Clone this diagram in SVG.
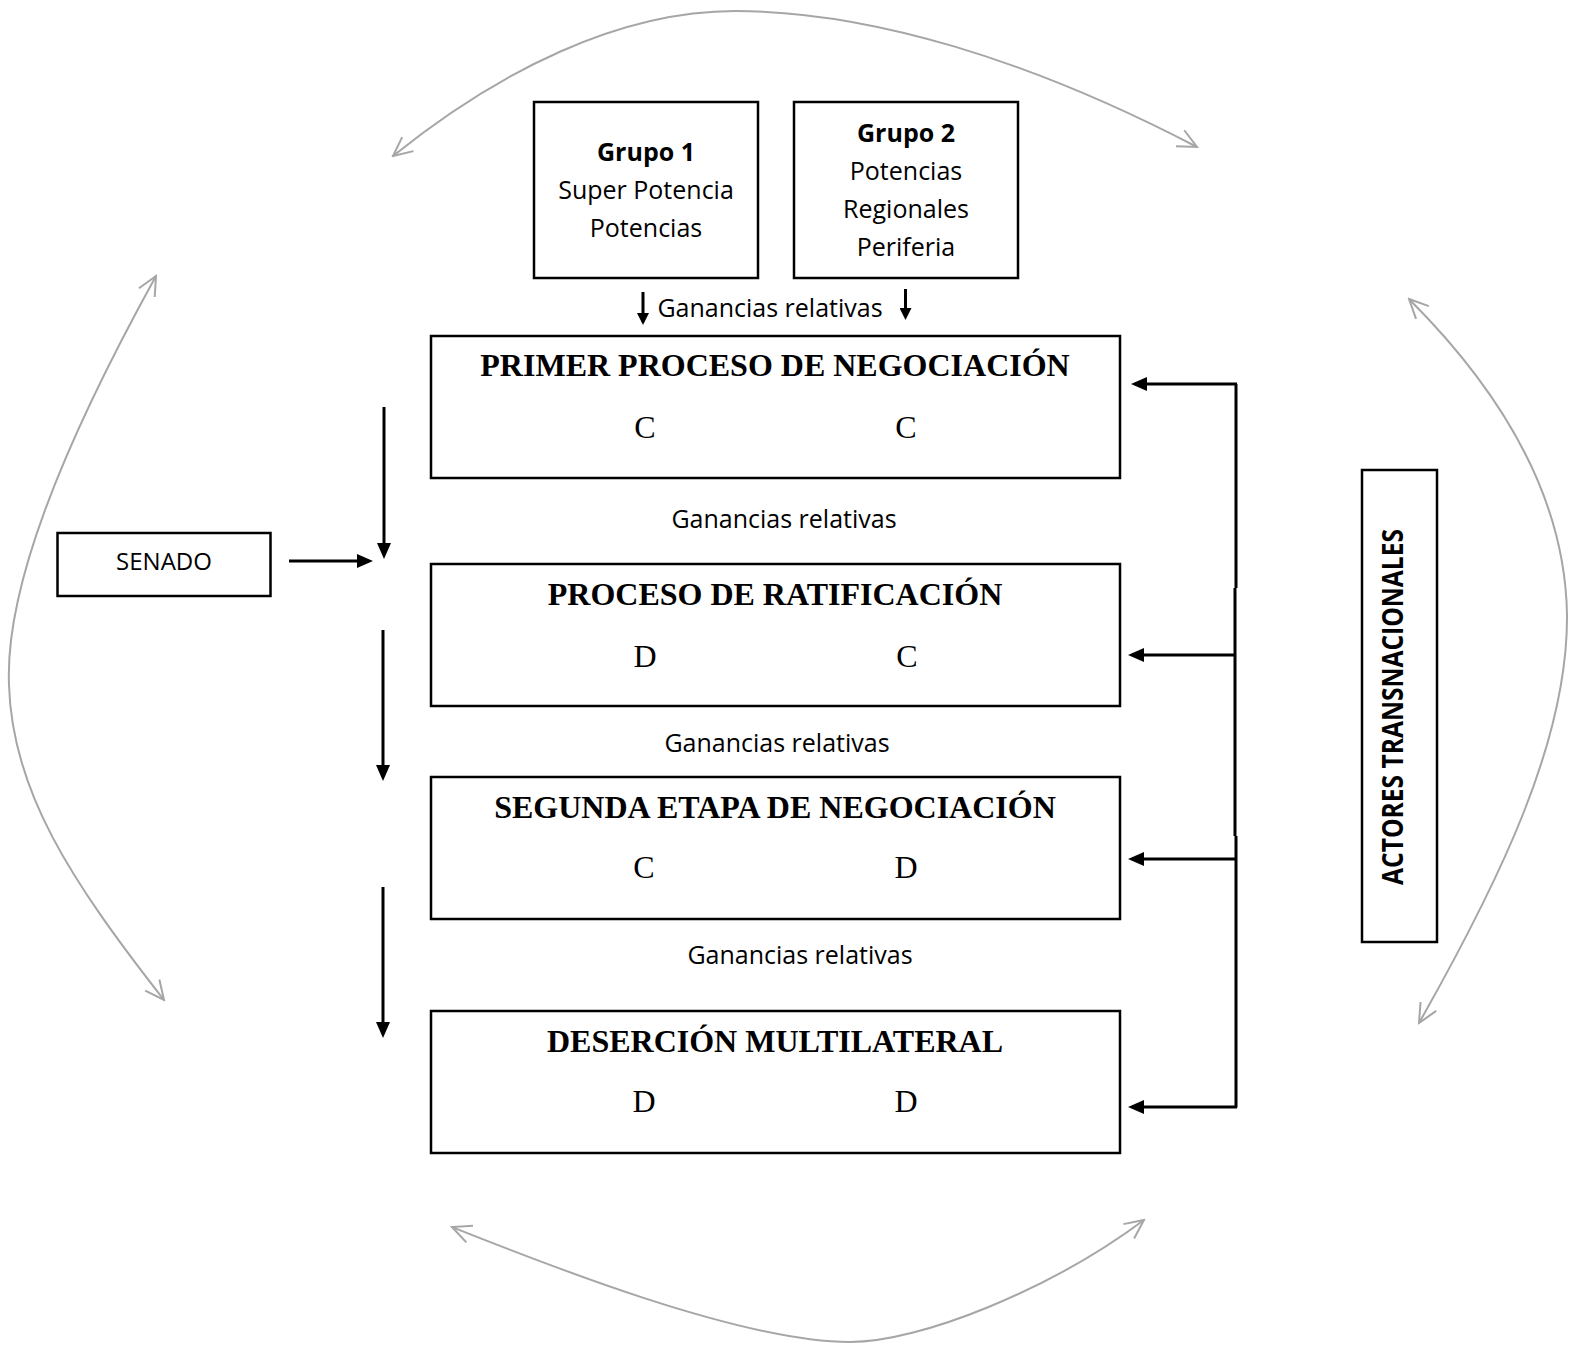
<svg xmlns="http://www.w3.org/2000/svg" width="1580" height="1345" viewBox="0 0 1580 1345">
<style>
.box{fill:#fff;stroke:#000;stroke-width:2.5}
.sans{font-family:"Open Sans","Liberation Sans",sans-serif;fill:#000}
.serif{font-family:"Liberation Serif","Times New Roman",serif;fill:#000}
.title{font-size:32px;font-weight:bold}
.cd{font-size:32px}
.lbl{font-size:25px}
.blk{stroke:#000;stroke-width:3;fill:none}
.gry{stroke:#a6a6a6;stroke-width:2;fill:none}
</style>
<defs>
<marker id="ah" markerUnits="userSpaceOnUse" viewBox="0 0 16 14" refX="12" refY="7" markerWidth="16" markerHeight="14" orient="auto"><path d="M0,0 L16,7 L0,14 z" fill="#000"/></marker>
<marker id="ahs" markerUnits="userSpaceOnUse" viewBox="0 0 12 12" refX="9" refY="6" markerWidth="12" markerHeight="12" orient="auto"><path d="M0,0 L12,6 L0,12 z" fill="#000"/></marker>
<marker id="va" markerUnits="userSpaceOnUse" viewBox="0 0 24 24" refX="22" refY="12" markerWidth="24" markerHeight="24" orient="auto-start-reverse"><path d="M3,3 L22,12 L3,21" fill="none" stroke="#a6a6a6" stroke-width="2"/></marker>
</defs>
<rect width="1580" height="1345" fill="#fff"/>

<g id="grupo1">
<rect class="box" x="534" y="102" width="224" height="176"/>
<text class="sans lbl" x="646" y="161" text-anchor="middle" font-weight="bold">Grupo 1</text>
<text class="sans lbl" x="646" y="199" text-anchor="middle">Super Potencia</text>
<text class="sans lbl" x="646" y="237" text-anchor="middle">Potencias</text>
</g>
<g id="grupo2">
<rect class="box" x="794" y="102" width="224" height="176"/>
<text class="sans lbl" x="906" y="142" text-anchor="middle" font-weight="bold">Grupo 2</text>
<text class="sans lbl" x="906" y="180" text-anchor="middle">Potencias</text>
<text class="sans lbl" x="906" y="218" text-anchor="middle">Regionales</text>
<text class="sans lbl" x="906" y="256" text-anchor="middle">Periferia</text>
</g>

<g id="primer">
<rect class="box" x="431" y="336" width="689" height="142"/>
<text class="serif title" x="775" y="376" text-anchor="middle">PRIMER PROCESO DE NEGOCIACIÓN</text>
<text class="serif cd" x="645" y="438" text-anchor="middle">C</text>
<text class="serif cd" x="906" y="438" text-anchor="middle">C</text>
</g>
<g id="ratificacion">
<rect class="box" x="431" y="564" width="689" height="142"/>
<text class="serif title" x="775" y="605" text-anchor="middle">PROCESO DE RATIFICACIÓN</text>
<text class="serif cd" x="645" y="667" text-anchor="middle">D</text>
<text class="serif cd" x="907" y="667" text-anchor="middle">C</text>
</g>
<g id="segunda">
<rect class="box" x="431" y="777" width="689" height="142"/>
<text class="serif title" x="775" y="818" text-anchor="middle">SEGUNDA ETAPA DE NEGOCIACIÓN</text>
<text class="serif cd" x="644" y="878" text-anchor="middle">C</text>
<text class="serif cd" x="906" y="878" text-anchor="middle">D</text>
</g>
<g id="desercion">
<rect class="box" x="431" y="1011" width="689" height="142"/>
<text class="serif title" x="775" y="1052" text-anchor="middle">DESERCIÓN MULTILATERAL</text>
<text class="serif cd" x="644" y="1112" text-anchor="middle">D</text>
<text class="serif cd" x="906" y="1112" text-anchor="middle">D</text>
</g>

<g id="senado">
<rect class="box" x="57.5" y="533" width="213" height="63" stroke-width="2"/>
<text class="sans" x="164" y="570" text-anchor="middle" font-size="24">SENADO</text>
</g>

<g id="actores">
<rect class="box" x="1362" y="470" width="75" height="472"/>
<text class="sans" transform="translate(1403,707) rotate(-90)" text-anchor="middle" font-size="28" font-weight="bold" textLength="356" lengthAdjust="spacingAndGlyphs">ACTORES TRANSNACIONALES</text>
</g>

<g id="labels">
<text class="sans lbl" x="770" y="317" text-anchor="middle">Ganancias relativas</text>
<text class="sans lbl" x="784" y="528" text-anchor="middle">Ganancias relativas</text>
<text class="sans lbl" x="777" y="752" text-anchor="middle">Ganancias relativas</text>
<text class="sans lbl" x="800" y="964" text-anchor="middle">Ganancias relativas</text>
</g>

<g id="connectors">
<line class="blk" x1="643" y1="292" x2="643" y2="322" stroke-width="2.5" marker-end="url(#ahs)"/>
<line class="blk" x1="905.5" y1="289" x2="905.5" y2="317" stroke-width="2.5" marker-end="url(#ahs)"/>
<line class="blk" x1="384" y1="407" x2="384" y2="555" marker-end="url(#ah)"/>
<line class="blk" x1="383" y1="630" x2="383" y2="777" marker-end="url(#ah)"/>
<line class="blk" x1="383" y1="887" x2="383" y2="1034" marker-end="url(#ah)"/>
<line class="blk" x1="289" y1="561" x2="369" y2="561" marker-end="url(#ah)"/>
<path class="blk" d="M1236,384 L1236,588 M1235,588 L1235,836 M1236,836 L1236,1107.5"/>
<line class="blk" x1="1237" y1="384" x2="1135" y2="384" marker-end="url(#ah)"/>
<line class="blk" x1="1235" y1="655" x2="1132" y2="655" marker-end="url(#ah)"/>
<line class="blk" x1="1235" y1="859" x2="1132" y2="859" marker-end="url(#ah)"/>
<line class="blk" x1="1237" y1="1107" x2="1132" y2="1107" marker-end="url(#ah)"/>
<path class="gry" d="M393,156 C500,70 620,11 735,11 C870,11 1030,60 1197,147" marker-start="url(#va)" marker-end="url(#va)"/>
<path class="gry" d="M156,276 C60,450 5,590 9,685 C12,790 70,880 164,1000" marker-start="url(#va)" marker-end="url(#va)"/>
<path class="gry" d="M1409,299 C1480,370 1565,480 1567,615 C1568,740 1500,880 1419,1023" marker-start="url(#va)" marker-end="url(#va)"/>
<path class="gry" d="M452,1227 C540,1262 740,1342 850,1342 C920,1342 1050,1290 1144,1220" marker-start="url(#va)" marker-end="url(#va)"/>
</g>
</svg>
